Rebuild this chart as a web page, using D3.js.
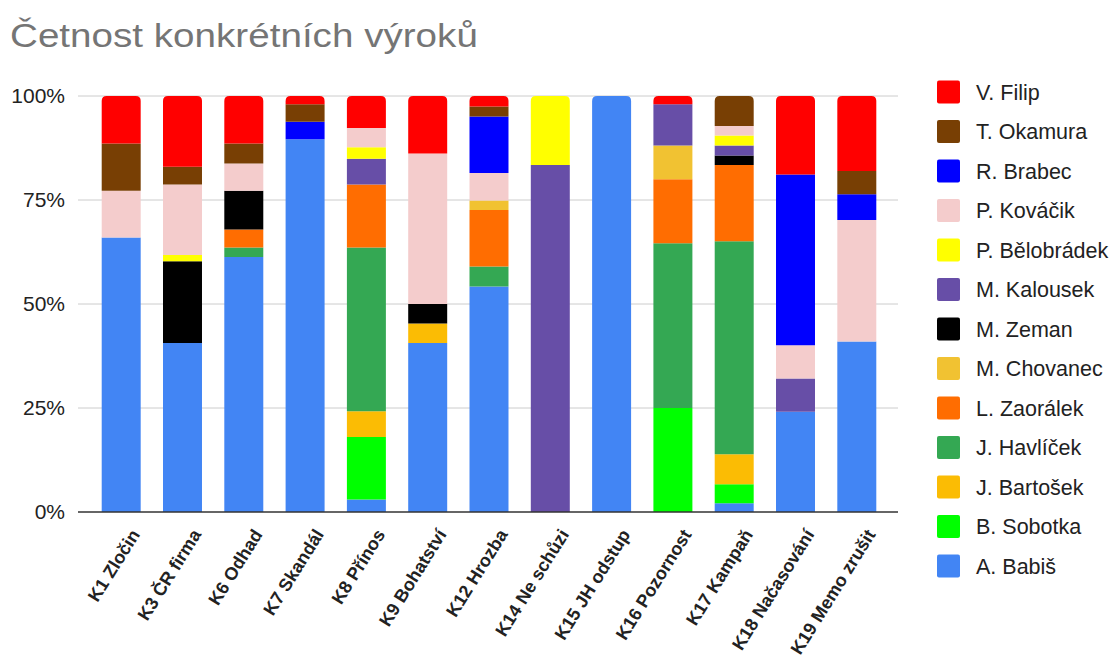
<!DOCTYPE html>
<html><head><meta charset="utf-8">
<script src="https://cdn.jsdelivr.net/npm/d3@7"></script>
<style>body{margin:0;background:#fff;font-family:"Liberation Sans",Arial,sans-serif}</style>
</head><body><svg id="c" width="1113" height="665"></svg>
<script>
const categories = ["K1 Zločin","K3 ČR firma","K6 Odhad","K7 Skandál","K8 Přínos","K9 Bohatství","K12 Hrozba","K14 Ne schůzi","K15 JH odstup","K16 Pozornost","K17 Kampaň","K18 Načasování","K19 Memo zrušit"];
// stack order bottom -> top
const series = ["A. Babiš","B. Sobotka","J. Bartošek","J. Havlíček","L. Zaorálek","M. Chovanec","M. Zeman","M. Kalousek","P. Bělobrádek","P. Kováčik","R. Brabec","T. Okamura","V. Filip"];
const colors = ["#4285f4","#00ff00","#fbbc04","#34a853","#ff6d01","#f1c232","#000000","#674ea7","#ffff00","#f4cccc","#0000ff","#783f04","#ff0000"];
const babis      = [66.0,40.6,61.3,89.6,3.0,40.6,54.2,0,100,0,2.1,24.1,41.0];
const sobotka    = [0,0,0,0,15.0,0,0,0,0,25.0,4.6,0,0];
const bartosek   = [0,0,0,0,6.2,4.7,0,0,0,0,7.2,0,0];
const havlicek   = [0,0,2.3,0,39.4,0,4.8,0,0,39.6,51.2,0,0];
const zaoralek   = [0,0,4.3,0,15.1,0,13.6,0,0,15.4,18.3,0,0];
const chovanec   = [0,0,0,0,0,0,2.3,0,0,8.1,0,0,0];
const zeman      = [0,19.7,9.3,0,0,4.7,0,0,0,0,2.3,0,0];
const kalousek   = [0,0,0,0,6.2,0,0,83.4,0,9.9,2.4,8.0,0];
const belobradek = [0,1.5,0,0,2.8,0,0,16.6,0,0,2.4,0,0];
const kovacik    = [11.2,16.9,6.6,0,4.6,36.2,6.6,0,0,0,2.3,8.0,29.2];
const brabec     = [0,0,0,4.2,0,0,13.6,0,0,0,0,41.0,6.2];
const okamura    = [11.4,4.3,4.8,4.2,0,0,2.4,0,0,0,7.2,0,5.6];
const filip      = [11.4,17.0,11.4,2.0,7.7,13.8,2.5,0,0,2.0,0,18.9,18.0];
const values = [babis,sobotka,bartosek,havlicek,zaoralek,chovanec,zeman,kalousek,belobradek,kovacik,brabec,okamura,filip];
const yTicks = [0,0.25,0.5,0.75,1];

const rows = categories.map((c,i)=>{const o={cat:c}; series.forEach((s,j)=>o[s]=values[j][i]); return o;});
const stacked = d3.stack().keys(series).offset(d3.stackOffsetExpand)(rows);

const svg = d3.select("#c");
const x = d3.scaleBand().domain(categories).range([80,898]).paddingInner(0.364).paddingOuter(0.354);
const y = d3.scaleLinear().domain([0,1]).range([512,96]);

svg.append("text").attr("transform","translate(10,47) scale(1.136,1)").attr("font-size",34).attr("fill","#757575").text("Četnost konkrétních výroků");

// grid
svg.append("g").selectAll("line").data(yTicks.filter(t=>t>0)).join("line")
  .attr("x1",78).attr("x2",898).attr("y1",d=>y(d)).attr("y2",d=>y(d))
  .attr("stroke","#cccccc").attr("stroke-width",1);
svg.append("g").selectAll("text").data(yTicks).join("text")
  .attr("x",65).attr("y",d=>y(d)).attr("dy","0.35em").attr("text-anchor","end")
  .attr("font-size",21).attr("fill","#222").text(d3.format(".0%"));

// top index per category
const topIdx = categories.map((c,i)=>{let t=-1; values.forEach((v,j)=>{if(v[i]>0)t=j;}); return t;});
const r = 5;
function rectPath(x0,y0,w,h,round){
  if(!round) return `M${x0},${y0}h${w}v${h}h${-w}Z`;
  const rr=Math.min(r,h);
  return `M${x0},${y0+h}V${y0+rr}Q${x0},${y0} ${x0+rr},${y0}H${x0+w-rr}Q${x0+w},${y0} ${x0+w},${y0+rr}V${y0+h}Z`;
}
svg.append("g").selectAll("g").data(stacked).join("g").attr("fill",(d,j)=>colors[j])
  .selectAll("path").data((d,j)=>d.map((p,i)=>({p,i,j}))).join("path")
  .filter(d=>d.p[1]-d.p[0]>0)
  .attr("d",d=>{const y0=y(d.p[1]), y1=y(d.p[0]); return rectPath(x(d.p.data.cat),y0,x.bandwidth(),y1-y0,topIdx[d.i]===d.j);});

// baseline
svg.append("line").attr("x1",78).attr("x2",898).attr("y1",y(0)).attr("y2",y(0)).attr("stroke","#333").attr("stroke-width",1.5);

// x labels
svg.append("g").selectAll("text").data(categories).join("text")
  .attr("transform",d=>`translate(${x(d)+x.bandwidth()/2+14},${531}) rotate(-58)`)
  .attr("text-anchor","end").attr("dy","0.35em").attr("font-size",18).attr("font-weight","bold").attr("fill","#222")
  .text(d=>d);

// legend (top = last series)
const leg = series.map((s,j)=>({s,c:colors[j]})).reverse();
const lg = svg.append("g").selectAll("g").data(leg).join("g").attr("transform",(d,i)=>`translate(937,${92+i*39.5})`);
lg.append("rect").attr("x",0).attr("y",-11.5).attr("width",23).attr("height",23).attr("rx",2).attr("fill",d=>d.c);
lg.append("text").attr("x",39).attr("dy","0.35em").attr("font-size",21.5).attr("fill","#222").text(d=>d.s);
</script></body></html>
